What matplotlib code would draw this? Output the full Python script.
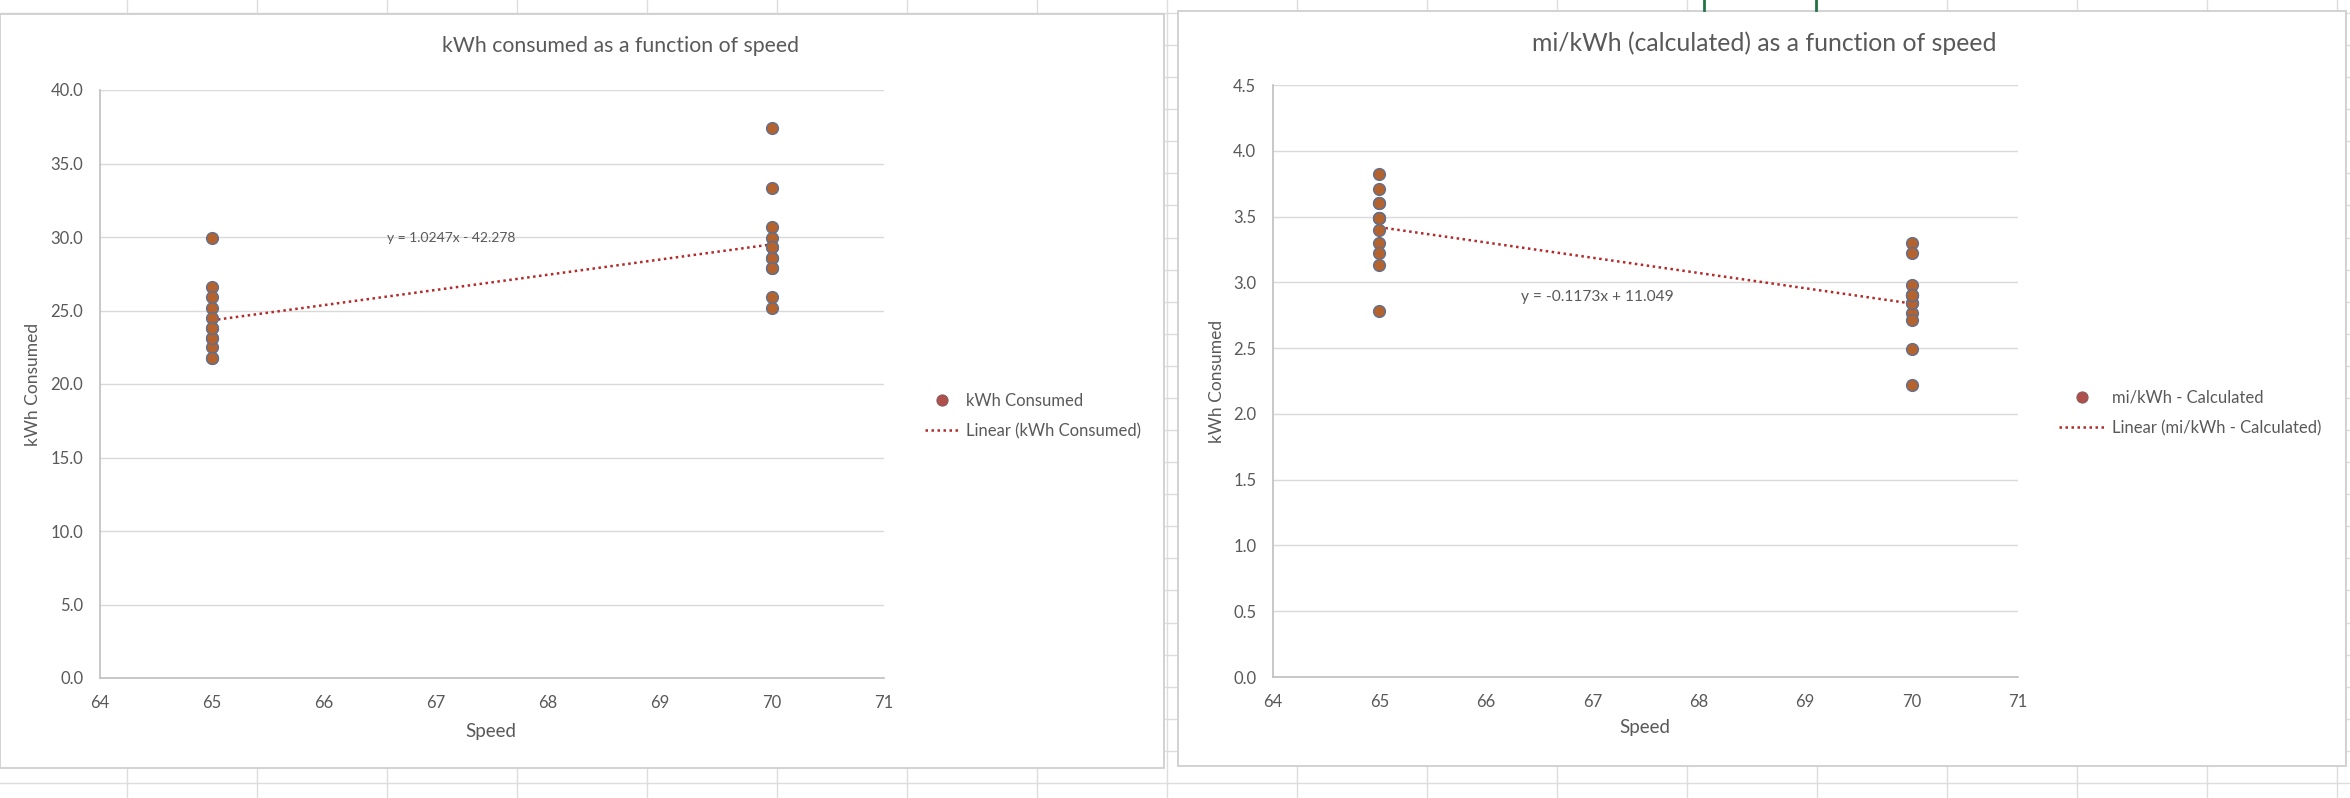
import matplotlib
matplotlib.use("Agg")
import matplotlib.pyplot as plt
from matplotlib.patches import Rectangle
from matplotlib.lines import Line2D
import numpy as np

plt.rcParams['font.family'] = ['Lato', 'DejaVu Sans']

# data
speed_65 = [65] * 12
speed_70 = [70] * 12
kwh_65 = [29.9, 26.6, 25.9, 25.2, 24.5, 23.8, 23.1, 22.5, 21.8, 21.8, 23.1, 23.8]
kwh_70 = [37.4, 33.3, 30.7, 29.9, 29.3, 28.6, 27.9, 25.9, 25.2, 28.6, 29.3, 27.9]
mpk_65 = [3.82, 3.71, 3.60, 3.49, 3.40, 3.30, 3.22, 3.13, 2.78, 3.60, 3.49, 3.49]
mpk_70 = [3.30, 3.22, 2.98, 2.90, 2.84, 2.77, 2.71, 2.49, 2.22, 2.84, 2.90, 2.90]

kwh_ticks = [0, 5, 10, 15, 20, 25, 30, 35, 40]
mpk_ticks = [0, 0.5, 1.0, 1.5, 2.0, 2.5, 3.0, 3.5, 4.0, 4.5]
speed_ticks = [64, 65, 66, 67, 68, 69, 70, 71]

eq_kwh = "y = 1.0247x - 42.278"
eq_mpk = "y = -0.1173x + 11.049"

W, H = 2350, 798
TXT = '#595959'
PT_FACE = '#B4622E'
PT_EDGE = '#5F6F8E'
TREND = '#B22A2A'


def fx(x):
    return x / W


def fy(y):
    return 1 - y / H


fig = plt.figure(figsize=(W / 100, H / 100), dpi=100)
fig.patch.set_facecolor('white')

# spreadsheet cells behind the charts
bg = fig.add_axes([0, 0, 1, 1])
bg.set_xlim(0, W)
bg.set_ylim(H, 0)
bg.axis('off')
for cx in np.arange(127, W, 130):
    bg.axvline(cx, color='#DDDDDD', lw=1.0)
for ry in np.arange(13, H, 32.08):
    bg.axhline(ry, color='#DDDDDD', lw=1.0)
bg.add_patch(Rectangle((0, 14), 1164, 754, facecolor='white', edgecolor='#CFCFCF', lw=1.3, zorder=3))
bg.add_patch(Rectangle((1178, 11), 1168, 755, facecolor='white', edgecolor='#CFCFCF', lw=1.3, zorder=3))
bg.plot([1704, 1704], [0, 10], color='#217346', lw=2, zorder=4)
bg.plot([1816, 1816], [0, 10], color='#217346', lw=2, zorder=4)


def make_chart(box, xs, ys, ylim, yticks, ylabel_x, title, title_xy, title_fs, speed_xy, eq, eq_xy,
               eq_fs, name, leg_xy, handle_len):
    x0, y0, x1, y1 = box
    ax = fig.add_axes([fx(x0), fy(y1), fx(x1) - fx(x0), (y1 - y0) / H])
    ax.set_xlim(64, 71)
    ax.set_ylim(*ylim)
    ax.set_xticks(speed_ticks)
    ax.set_yticks(yticks)
    ax.set_yticklabels([f"{t:.1f}" for t in yticks])
    ax.tick_params(length=0, labelsize=12, labelcolor=TXT, pad=12)
    ax.grid(axis='y', color='#D9D9D9', lw=1.0)
    ax.set_axisbelow(True)
    for s in ['top', 'right']:
        ax.spines[s].set_visible(False)
    for s in ['left', 'bottom']:
        ax.spines[s].set_color('#BFBFBF')
        ax.spines[s].set_linewidth(1.2)
    ax.patch.set_alpha(0)

    allx = np.array(xs[0] + xs[1], dtype=float)
    ally = np.array(ys[0] + ys[1], dtype=float)
    m, b = np.polyfit(allx, ally, 1)
    tx = np.array([65, 70])
    ax.plot(tx, m * tx + b, color=TREND, lw=1.8, ls=(0, (1, 1.4)), zorder=2)
    ax.scatter(allx, ally, s=72, color=PT_FACE, edgecolors=PT_EDGE, linewidths=1.0, zorder=3, clip_on=False)
    ax.text(eq_xy[0], eq_xy[1], eq, fontsize=eq_fs, color=TXT, ha='center', va='center')

    fig.text(fx(title_xy[0]), fy(title_xy[1]), title, fontsize=title_fs, color=TXT, ha='center', va='center')
    fig.text(fx(speed_xy[0]), fy(speed_xy[1]), "Speed", fontsize=13.5, color=TXT, ha='center', va='center')
    fig.text(fx(ylabel_x), fy((y0 + y1) / 2), "kWh Consumed", fontsize=12.5, color=TXT,
             ha='center', va='center', rotation=90)

    handles = [
        Line2D([], [], ls='none', marker='o', markersize=8, markerfacecolor='#B0504A',
               markeredgecolor='#8A5A60', markeredgewidth=0.8),
        Line2D([], [], color=TREND, lw=1.8, ls=(0, (1, 1.4))),
    ]
    fig.legend(handles, [name, f"Linear ({name})"], loc='center left',
               bbox_to_anchor=(fx(leg_xy[0]), fy(leg_xy[1])), frameon=False,
               fontsize=12, labelcolor=TXT, handlelength=handle_len, handletextpad=0.45,
               labelspacing=0.85, borderpad=0, borderaxespad=0)
    return ax


make_chart((100, 90, 884, 678), (speed_65, speed_70), (kwh_65, kwh_70), (0, 40), kwh_ticks, 33,
           "kWh consumed as a function of speed", (620, 46), 15.3, (491, 731), eq_kwh, (67.14, 29.9),
           10, "kWh Consumed", (925, 416), 2.0)

make_chart((1273, 85, 2018, 677), (speed_65, speed_70), (mpk_65, mpk_70), (0, 4.5), mpk_ticks, 1217,
           "mi/kWh (calculated) as a function of speed", (1764, 43), 17.8, (1645, 728), eq_mpk, (67.05, 2.89),
           11.2, "mi/kWh - Calculated", (2059, 413), 2.7)

fig.savefig("out.png", dpi=100)
